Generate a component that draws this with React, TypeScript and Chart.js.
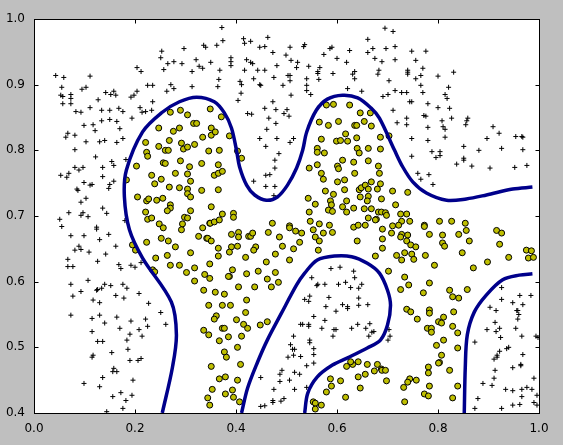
import React, { useEffect, useRef } from "react";
import { Chart, registerables } from "chart.js";

Chart.register(...registerables);

type P = [number, number];

const crossesTop: P[] = [
  [0.043,0.914],[0.059,0.911],[0.111,0.913],[0.055,0.896],[0.095,0.893],[0.103,0.896],[0.053,0.884],[0.057,0.882],[0.073,0.885],[0.073,0.879],[0.073,0.871],[0.057,0.871],[0.127,0.877],[0.142,0.888],[0.152,0.885],[0.158,0.890],[0.162,0.884],[0.192,0.881],[0.198,0.884],[0.204,0.890],[0.225,0.899],[0.235,0.899],[0.263,0.890],[0.271,0.900],[0.277,0.894],[0.313,0.897],[0.204,0.926],[0.212,0.920],[0.253,0.951],[0.251,0.941],[0.257,0.923],[0.265,0.932],[0.277,0.935],[0.293,0.932],[0.297,0.955],[0.321,0.938],[0.313,0.920],[0.327,0.928],[0.334,0.925],[0.336,0.960],[0.340,0.957],[0.235,0.874],[0.210,0.865],[0.214,0.858],[0.221,0.859],[0.233,0.861],[0.194,0.849],[0.083,0.859],[0.093,0.858],[0.111,0.865],[0.134,0.861],[0.150,0.861],[0.168,0.864],[0.176,0.859],[0.099,0.838],[0.117,0.839],[0.121,0.830],[0.134,0.845],[0.150,0.847],[0.164,0.844],[0.170,0.833],[0.067,0.826],[0.063,0.820],[0.081,0.823],[0.103,0.813],[0.130,0.813],[0.140,0.815],[0.164,0.812],[0.176,0.818],[0.081,0.801],
  [0.372,0.987],[0.374,0.967],[0.362,0.960],[0.415,0.970],[0.417,0.963],[0.429,0.966],[0.463,0.972],[0.447,0.957],[0.457,0.958],[0.473,0.949],[0.507,0.957],[0.499,0.945],[0.509,0.937],[0.522,0.934],[0.520,0.926],[0.534,0.958],[0.536,0.961],[0.544,0.928],[0.566,0.926],[0.562,0.920],[0.562,0.917],[0.564,0.908],[0.540,0.909],[0.592,0.917],[0.574,0.946],[0.586,0.955],[0.590,0.957],[0.600,0.940],[0.619,0.934],[0.625,0.952],[0.661,0.969],[0.671,0.955],[0.661,0.949],[0.675,0.940],[0.635,0.920],[0.631,0.916],[0.635,0.909],[0.683,0.922],[0.681,0.916],[0.621,0.894],[0.649,0.890],[0.390,0.941],[0.390,0.935],[0.390,0.929],[0.421,0.938],[0.429,0.934],[0.433,0.932],[0.350,0.934],[0.368,0.922],[0.366,0.908],[0.364,0.897],[0.417,0.922],[0.443,0.922],[0.457,0.922],[0.481,0.929],[0.435,0.909],[0.475,0.911],[0.503,0.914],[0.507,0.914],[0.507,0.906],[0.408,0.905],[0.411,0.900],[0.447,0.900],[0.449,0.899],[0.493,0.899],[0.540,0.899],[0.540,0.891],[0.548,0.885],[0.410,0.887],[0.404,0.876],[0.509,0.884],[0.473,0.874],[0.457,0.864],[0.479,0.862],[0.501,0.862],[0.495,0.856],[0.505,0.852],[0.423,0.856],[0.431,0.855],[0.465,0.849],[0.479,0.841],[0.461,0.832],[0.447,0.818],[0.481,0.818],[0.514,0.818],[0.507,0.812],[0.459,0.806],[0.485,0.795],
  [0.695,0.986],[0.711,0.981],[0.697,0.955],[0.715,0.958],[0.748,0.951],[0.776,0.951],[0.689,0.935],[0.715,0.938],[0.756,0.937],[0.770,0.925],[0.740,0.922],[0.740,0.919],[0.740,0.916],[0.766,0.914],[0.756,0.909],[0.800,0.913],[0.831,0.919],[0.703,0.906],[0.766,0.899],[0.821,0.896],[0.715,0.891],[0.728,0.888],[0.738,0.888],[0.770,0.888],[0.701,0.885],[0.691,0.882],[0.814,0.885],[0.818,0.879],[0.744,0.874],[0.748,0.874],[0.780,0.871],[0.800,0.865],[0.823,0.864],[0.711,0.861],[0.772,0.853],[0.776,0.852],[0.738,0.849],[0.738,0.839],[0.719,0.842],[0.808,0.845],[0.827,0.849],[0.859,0.849],[0.857,0.845],[0.855,0.839],[0.810,0.836],[0.814,0.832],[0.780,0.835],[0.909,0.836],[0.921,0.826],[0.748,0.818],[0.780,0.815],[0.814,0.820],[0.897,0.818],[0.954,0.821],[0.966,0.821],[0.968,0.820],[0.851,0.806],[0.881,0.800],[0.926,0.803],[0.968,0.801],[0.788,0.798],[0.804,0.798],
];

const crossesMiddle: P[] = [
  [0.122,0.790],[0.081,0.774],[0.089,0.770],[0.097,0.774],[0.136,0.774],[0.154,0.783],[0.158,0.777],[0.182,0.786],[0.053,0.762],[0.065,0.759],[0.069,0.765],[0.136,0.760],[0.099,0.751],[0.111,0.747],[0.115,0.748],[0.150,0.748],[0.158,0.753],[0.148,0.742],[0.085,0.741],[0.087,0.739],[0.182,0.754],[0.103,0.727],[0.093,0.721],[0.136,0.712],[0.069,0.705],[0.097,0.705],[0.093,0.701],[0.107,0.699],[0.144,0.704],[0.051,0.695],[0.180,0.693],[0.055,0.684],[0.124,0.683],[0.124,0.680],[0.073,0.670],[0.099,0.670],[0.148,0.672],[0.130,0.664],[0.162,0.654],[0.089,0.654],[0.093,0.649],[0.081,0.648],[0.109,0.645],[0.142,0.642],[0.067,0.634],[0.126,0.631],[0.067,0.623],[0.077,0.623],[0.168,0.626],[0.172,0.620],[0.192,0.625],[0.200,0.622],[0.212,0.629],[0.107,0.602],[0.073,0.596],[0.140,0.596],[0.152,0.594],[0.176,0.596],[0.184,0.590],[0.134,0.590],[0.126,0.588],
  [0.477,0.785],[0.477,0.773],[0.459,0.762],[0.467,0.763],[0.435,0.753],[0.459,0.745],[0.477,0.745],[0.475,0.731],
  [0.588,0.620],[0.606,0.622],[0.633,0.616],[0.635,0.606],[0.550,0.606],[0.562,0.596],[0.560,0.594],[0.576,0.596],[0.603,0.596],[0.617,0.599],[0.627,0.591],[0.649,0.596],[0.643,0.590],
  [0.748,0.791],[0.804,0.792],[0.796,0.789],[0.851,0.788],[0.851,0.785],[0.837,0.779],[0.867,0.776],[0.903,0.773],[0.952,0.774],[0.976,0.777],[0.760,0.765],[0.782,0.763],[0.766,0.756],[0.790,0.748],[0.926,0.591],
];

const crossesBottom: P[] = [
  [0.093,0.585],[0.124,0.587],[0.208,0.582],[0.077,0.578],[0.162,0.579],[0.178,0.575],[0.117,0.572],[0.130,0.568],[0.227,0.567],[0.251,0.553],[0.073,0.549],[0.115,0.544],[0.130,0.549],[0.164,0.546],[0.192,0.540],[0.221,0.543],[0.140,0.537],[0.261,0.535],[0.225,0.532],[0.170,0.529],[0.208,0.527],[0.115,0.524],[0.190,0.520],[0.214,0.517],[0.184,0.511],[0.126,0.509],[0.136,0.509],[0.186,0.497],[0.154,0.492],[0.117,0.488],[0.115,0.485],[0.212,0.483],[0.206,0.480],[0.190,0.480],[0.158,0.468],[0.156,0.463],[0.164,0.463],[0.136,0.454],[0.196,0.450],[0.099,0.445],[0.130,0.440],[0.172,0.431],[0.194,0.427],[0.156,0.425],[0.182,0.419],[0.176,0.407],[0.144,0.402],
  [0.536,0.573],[0.546,0.578],[0.544,0.570],[0.584,0.576],[0.643,0.575],[0.578,0.562],[0.611,0.565],[0.621,0.562],[0.621,0.559],[0.643,0.564],[0.661,0.565],[0.598,0.555],[0.554,0.547],[0.576,0.541],[0.528,0.535],[0.532,0.535],[0.544,0.535],[0.544,0.532],[0.570,0.529],[0.594,0.527],[0.598,0.527],[0.629,0.529],[0.641,0.535],[0.657,0.529],[0.665,0.536],[0.669,0.523],[0.673,0.524],[0.663,0.517],[0.592,0.517],[0.514,0.517],[0.546,0.511],[0.546,0.507],[0.508,0.504],[0.554,0.498],[0.512,0.497],[0.516,0.497],[0.503,0.485],[0.514,0.488],[0.528,0.486],[0.554,0.489],[0.540,0.472],[0.554,0.476],[0.491,0.465],[0.487,0.459],[0.516,0.462],[0.526,0.459],[0.449,0.454],[0.487,0.448],[0.506,0.450],[0.475,0.436],[0.516,0.436],[0.540,0.439],[0.495,0.422],[0.489,0.418],[0.473,0.419],[0.473,0.416],[0.457,0.411],[0.449,0.410],
  [0.926,0.573],[0.962,0.579],[0.984,0.579],[0.948,0.568],[0.968,0.565],[0.903,0.561],[0.915,0.556],[0.956,0.556],[0.958,0.556],[0.960,0.550],[0.958,0.543],[0.913,0.538],[0.897,0.527],[0.915,0.524],[0.922,0.529],[0.954,0.529],[0.924,0.515],[0.966,0.517],[0.994,0.517],[0.998,0.515],[0.873,0.508],[0.936,0.498],[0.940,0.500],[0.922,0.494],[0.917,0.488],[0.917,0.485],[0.911,0.482],[0.968,0.489],[0.964,0.474],[0.964,0.472],[0.948,0.469],[0.913,0.465],[0.990,0.453],[0.911,0.453],[0.889,0.445],[0.907,0.442],[0.934,0.436],[0.948,0.434],[0.976,0.439],[0.966,0.436],[0.986,0.436],[0.996,0.427],[0.966,0.425],[0.879,0.422],[0.990,0.416],[0.962,0.413],[0.948,0.412],[0.926,0.407],[0.873,0.407],[0.996,0.412],[0.705,0.517],[0.701,0.511],[0.703,0.527],
];

const yellowTop: P[] = [
  [0.270,0.858],[0.290,0.861],[0.304,0.854],[0.349,0.863],[0.247,0.834],[0.276,0.829],[0.288,0.834],[0.316,0.841],[0.322,0.841],[0.221,0.812],[0.223,0.797],[0.247,0.806],[0.268,0.815],[0.292,0.811],[0.296,0.802],[0.304,0.805],[0.318,0.809],[0.260,0.800],[0.266,0.800],[0.334,0.820],
  [0.371,0.851],[0.351,0.834],[0.351,0.823],[0.359,0.828],[0.387,0.822],[0.346,0.799],[0.367,0.800],[0.403,0.799],[0.579,0.869],[0.593,0.870],[0.625,0.869],[0.646,0.857],[0.666,0.857],[0.565,0.843],[0.583,0.838],[0.603,0.844],[0.635,0.838],[0.639,0.838],[0.654,0.844],[0.668,0.837],[0.569,0.817],[0.599,0.814],[0.607,0.815],[0.617,0.825],[0.621,0.814],[0.639,0.819],[0.686,0.820],[0.561,0.803],[0.561,0.797],[0.575,0.796],[0.640,0.803],[0.644,0.796],[0.662,0.803],[0.686,0.802],[0.703,0.822],
];

const yellowLeftMiddle: P[] = [
  [0.225,0.791],[0.203,0.776],[0.256,0.781],[0.260,0.780],[0.290,0.784],[0.308,0.775],[0.332,0.780],[0.233,0.762],[0.280,0.765],[0.304,0.764],[0.252,0.756],[0.310,0.753],[0.239,0.749],[0.268,0.744],[0.288,0.743],[0.304,0.741],[0.332,0.739],[0.183,0.755],[0.304,0.734],[0.310,0.729],[0.205,0.729],[0.223,0.723],[0.227,0.726],[0.243,0.724],[0.255,0.727],[0.270,0.717],[0.270,0.712],[0.264,0.708],[0.221,0.706],[0.310,0.708],[0.225,0.695],[0.233,0.697],[0.298,0.698],[0.304,0.697],[0.248,0.688],[0.256,0.682],[0.294,0.688],[0.292,0.679],[0.334,0.682],[0.348,0.689],[0.326,0.669],[0.342,0.666],[0.223,0.660],[0.252,0.666],[0.266,0.662],[0.280,0.653],[0.195,0.656],[0.201,0.648],[0.310,0.644],[0.264,0.640],[0.241,0.636],[0.270,0.625],[0.288,0.625],[0.318,0.621],[0.348,0.627],[0.302,0.614],[0.338,0.611],[0.348,0.605],[0.235,0.618],[0.239,0.615],[0.318,0.601],[0.336,0.587],
];

const yellowCenter: P[] = [
  [0.365,0.778],[0.357,0.762],[0.365,0.765],[0.373,0.768],[0.365,0.740],[0.351,0.714],[0.411,0.788],[0.373,0.703],[0.395,0.704],[0.395,0.698],[0.349,0.689],[0.357,0.691],[0.367,0.694],[0.344,0.666],[0.351,0.662],[0.391,0.672],[0.405,0.675],[0.405,0.668],[0.425,0.669],[0.429,0.669],[0.433,0.674],[0.472,0.689],[0.464,0.675],[0.506,0.685],[0.506,0.682],[0.518,0.677],[0.530,0.674],[0.486,0.668],[0.526,0.660],[0.492,0.654],[0.514,0.650],[0.365,0.651],[0.391,0.653],[0.403,0.654],[0.387,0.645],[0.439,0.653],[0.435,0.648],[0.365,0.639],[0.419,0.637],[0.478,0.642],[0.460,0.630],[0.506,0.633],[0.393,0.618],[0.387,0.608],[0.385,0.608],[0.421,0.612],[0.444,0.616],[0.478,0.614],[0.462,0.604],[0.484,0.599],[0.405,0.592],[0.437,0.592],[0.470,0.592],
  [0.545,0.773],[0.561,0.778],[0.569,0.765],[0.573,0.756],[0.601,0.776],[0.603,0.772],[0.611,0.785],[0.633,0.782],[0.662,0.784],[0.682,0.776],[0.684,0.765],[0.635,0.765],[0.601,0.752],[0.615,0.755],[0.615,0.740],[0.577,0.738],[0.593,0.733],[0.543,0.727],[0.557,0.718],[0.587,0.723],[0.589,0.717],[0.619,0.723],[0.545,0.706],[0.583,0.709],[0.591,0.707],[0.611,0.714],[0.619,0.706],[0.633,0.712],[0.547,0.692],[0.565,0.688],[0.585,0.686],[0.553,0.679],[0.573,0.674],[0.591,0.675],[0.557,0.668],[0.565,0.662],[0.563,0.648],[0.633,0.683],[0.642,0.686],[0.656,0.686],[0.662,0.697],[0.678,0.695],[0.676,0.694],[0.654,0.711],[0.668,0.711],[0.682,0.706],[0.688,0.706],[0.646,0.729],[0.662,0.730],[0.660,0.723],[0.688,0.726],[0.644,0.740],[0.648,0.743],[0.656,0.747],[0.668,0.752],[0.686,0.749],[0.680,0.741],[0.662,0.741],[0.690,0.680],[0.640,0.662],[0.676,0.639],
];

const yellowRightMiddle: P[] = [
  [0.710,0.738],[0.740,0.736],[0.716,0.717],[0.696,0.705],[0.698,0.701],[0.726,0.703],[0.738,0.703],[0.728,0.692],[0.722,0.686],[0.710,0.685],[0.744,0.692],[0.773,0.686],[0.773,0.684],[0.803,0.692],[0.827,0.692],[0.854,0.689],[0.856,0.678],[0.916,0.678],[0.926,0.674],[0.922,0.657],[0.975,0.648],[0.985,0.647],[0.979,0.636],[0.989,0.637],[0.708,0.674],[0.728,0.672],[0.726,0.668],[0.740,0.671],[0.783,0.672],[0.809,0.671],[0.841,0.672],[0.690,0.665],[0.690,0.651],[0.738,0.662],[0.746,0.656],[0.756,0.653],[0.809,0.659],[0.813,0.654],[0.862,0.662],[0.718,0.640],[0.734,0.644],[0.728,0.633],[0.748,0.642],[0.752,0.634],[0.775,0.640],[0.848,0.644],[0.940,0.637],[0.898,0.630],[0.793,0.625],[0.870,0.621],[0.702,0.616],[0.734,0.607],[0.742,0.595],[0.783,0.598],[0.726,0.588],[0.823,0.587],[0.858,0.588],
];

const yellowBottom: P[] = [
  [0.346,0.564],[0.336,0.526],[0.346,0.519],[0.344,0.423],[0.348,0.412],
  [0.359,0.584],[0.377,0.581],[0.421,0.572],[0.373,0.564],[0.389,0.564],[0.419,0.553],[0.361,0.548],[0.357,0.543],[0.401,0.542],[0.415,0.535],[0.423,0.529],[0.448,0.534],[0.462,0.539],[0.373,0.529],[0.377,0.529],[0.385,0.516],[0.411,0.517],[0.367,0.510],[0.403,0.500],[0.377,0.493],[0.381,0.485],[0.351,0.471],[0.409,0.474],[0.379,0.455],[0.367,0.452],[0.403,0.450],[0.353,0.436],[0.393,0.435],[0.379,0.429],[0.395,0.424],[0.407,0.417],
  [0.587,0.452],[0.589,0.441],[0.607,0.449],[0.579,0.432],[0.617,0.424],[0.642,0.455],[0.646,0.438],[0.656,0.459],[0.674,0.464],[0.688,0.467],[0.680,0.474],[0.660,0.474],[0.642,0.478],[0.631,0.474],[0.627,0.478],[0.619,0.471],[0.553,0.417],[0.557,0.415],[0.569,0.412],[0.557,0.406],
  [0.771,0.583],[0.829,0.577],[0.841,0.575],[0.738,0.558],[0.746,0.554],[0.783,0.557],[0.783,0.552],[0.831,0.554],[0.759,0.543],[0.811,0.546],[0.801,0.539],[0.807,0.537],[0.829,0.532],[0.779,0.529],[0.787,0.529],[0.787,0.523],[0.839,0.522],[0.811,0.511],[0.797,0.503],[0.839,0.499],[0.807,0.488],[0.803,0.477],[0.801,0.476],[0.781,0.470],[0.781,0.461],[0.823,0.465],[0.689,0.465],[0.696,0.465],[0.698,0.449],[0.744,0.452],[0.740,0.447],[0.732,0.439],[0.757,0.450],[0.783,0.441],[0.839,0.441],[0.773,0.429],[0.781,0.426],[0.829,0.423],[0.734,0.417],
];

const contourMain: P[] = [
  [0.254,0.400],[0.274,0.469],[0.282,0.519],[0.272,0.569],[0.215,0.636],[0.189,0.679],[0.179,0.729],[0.183,0.770],[0.215,0.828],[0.254,0.858],[0.288,0.874],[0.322,0.881],[0.357,0.874],[0.377,0.857],[0.391,0.834],[0.401,0.800],[0.407,0.775],[0.421,0.747],[0.437,0.732],[0.460,0.724],[0.482,0.729],[0.502,0.747],[0.520,0.773],[0.532,0.800],[0.540,0.828],[0.559,0.861],[0.581,0.878],[0.611,0.884],[0.641,0.880],[0.668,0.864],[0.684,0.849],[0.714,0.800],[0.730,0.775],[0.750,0.752],[0.777,0.735],[0.817,0.724],[0.856,0.726],[0.896,0.732],[0.948,0.741],[0.987,0.744],
];

const contourIsland: P[] = [
  [0.411,0.400],[0.423,0.438],[0.443,0.478],[0.462,0.511],[0.490,0.552],[0.520,0.595],[0.536,0.613],[0.561,0.633],[0.595,0.639],[0.629,0.638],[0.660,0.628],[0.684,0.613],[0.700,0.587],[0.706,0.564],[0.700,0.534],[0.686,0.511],[0.660,0.499],[0.621,0.484],[0.591,0.473],[0.561,0.455],[0.542,0.430],[0.536,0.400],
];

const contourRight: P[] = [
  [0.852,0.400],[0.854,0.469],[0.858,0.519],[0.872,0.554],[0.896,0.580],[0.928,0.603],[0.961,0.610],[0.987,0.612],
];

const xTicks = [0, 0.2, 0.4, 0.6, 0.8, 1.0];
const yTicks = [0.4, 0.5, 0.6, 0.7, 0.8, 0.9, 1.0];

const toXY = (pts: P[]) => pts.map(([x, y]) => ({ x, y }));

const lineSet = (pts: P[]) => ({
  type: "line" as const,
  data: toXY(pts),
  borderColor: "#00008b",
  borderWidth: 3.5,
  pointRadius: 0,
  tension: 0.33,
  fill: false,
  showLine: true,
});

const framePlugin = {
  id: "frame",
  afterDatasetsDraw(chart: any) {
    const { ctx, chartArea: a, scales } = chart;
    const L = a.left + 0.5, R = a.right + 0.5, T = a.top + 0.5, B = a.bottom + 0.5;
    ctx.save();
    ctx.strokeStyle = "#000";
    ctx.lineWidth = 1;
    ctx.strokeRect(L, T, R - L, B - T);
    ctx.beginPath();
    xTicks.forEach((v) => {
      const px = Math.round(scales.x.getPixelForValue(v)) + 0.5;
      ctx.moveTo(px, T); ctx.lineTo(px, T + 4);
      ctx.moveTo(px, B); ctx.lineTo(px, B - 4);
    });
    yTicks.forEach((v) => {
      const py = Math.round(scales.y.getPixelForValue(v)) + 0.5;
      ctx.moveTo(L, py); ctx.lineTo(L + 4, py);
      ctx.moveTo(R, py); ctx.lineTo(R - 4, py);
    });
    ctx.stroke();
    ctx.restore();
  },
};

export default function App() {
  const ref = useRef<HTMLCanvasElement>(null);
  useEffect(() => {
    document.body.style.margin = "0";
    document.body.style.background = "#bfbfbf";
    const chart = new Chart(ref.current as HTMLCanvasElement, {
      type: "scatter",
      data: {
        datasets: [
          lineSet(contourMain),
          lineSet(contourIsland),
          lineSet(contourRight),
          {
            data: toXY([...yellowTop, ...yellowLeftMiddle, ...yellowCenter, ...yellowRightMiddle, ...yellowBottom]),
            backgroundColor: "#bfbf00",
            borderColor: "#000",
            borderWidth: 1,
            pointRadius: 3,
            pointStyle: "circle",
          },
          {
            data: toXY([...crossesTop, ...crossesMiddle, ...crossesBottom]),
            borderColor: "#000",
            borderWidth: 1,
            pointRadius: 2.5,
            pointStyle: "cross",
          },
        ] as any,
      },
      options: {
        responsive: false,
        animation: false,
        layout: { padding: { left: 0, right: 24, top: 19, bottom: 0 } },
        plugins: { legend: { display: false }, tooltip: { enabled: false } },
        scales: {
          x: {
            type: "linear",
            min: 0,
            max: 1,
            grid: { display: false },
            border: { display: false },
            afterBuildTicks: (s: any) => { s.ticks = xTicks.map((value) => ({ value })); },
            afterFit: (s: any) => { s.height = 32; },
            ticks: {
              autoSkip: false,
              maxRotation: 0,
              padding: 1,
              color: "#000",
              font: { family: "DejaVu Sans", size: 12 },
              callback: (v: any) => Number(v).toFixed(1),
            },
          },
          y: {
            type: "linear",
            min: 0.4,
            max: 1,
            grid: { display: false },
            border: { display: false },
            afterBuildTicks: (s: any) => { s.ticks = yTicks.map((value) => ({ value })); },
            afterFit: (s: any) => { s.width = 34; },
            ticks: {
              autoSkip: false,
              padding: 1,
              color: "#000",
              font: { family: "DejaVu Sans", size: 12 },
              callback: (v: any) => Number(v).toFixed(1),
            },
          },
        },
      },
      plugins: [
        {
          id: "plotBg",
          beforeDatasetsDraw(c: any) {
            const { ctx, chartArea: a } = c;
            ctx.save();
            ctx.fillStyle = "#fff";
            ctx.fillRect(a.left, a.top, a.right - a.left, a.bottom - a.top);
            ctx.restore();
          },
        },
        framePlugin,
      ],
    });
    return () => chart.destroy();
  }, []);
  return (
    <div style={{ position: "absolute", left: 0, top: 0, width: 563, height: 445, background: "#bfbfbf" }}>
      <canvas ref={ref} width={563} height={445} style={{ display: "block" }} />
    </div>
  );
}
